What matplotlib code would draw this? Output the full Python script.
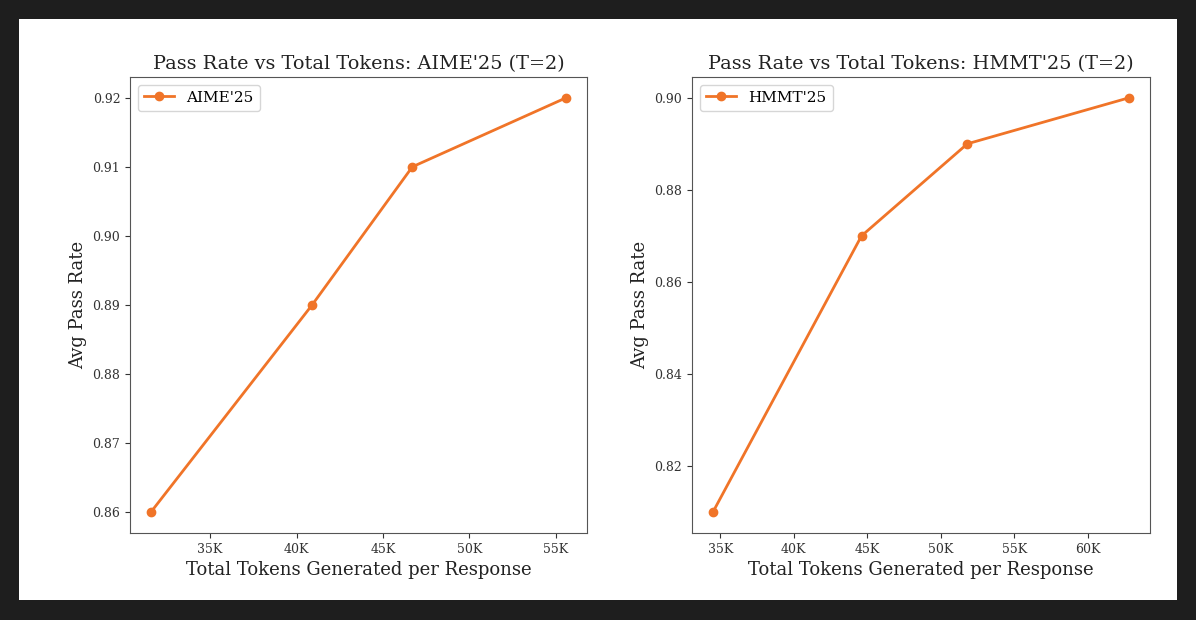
import matplotlib.pyplot as plt
from matplotlib.patches import Rectangle
from matplotlib.ticker import FuncFormatter

# AIME'25 data
aime_tokens = [31570, 40900, 46700, 55600]
aime_pass = [0.86, 0.89, 0.91, 0.92]

# HMMT'25 data
hmmt_tokens = [34490, 44600, 51800, 62800]
hmmt_pass = [0.81, 0.87, 0.89, 0.90]

color = '#f07428'
plt.rcParams['font.family'] = 'DejaVu Serif'

fig = plt.figure(figsize=(11.96, 6.2), dpi=100, facecolor='#1e1e1e')
fig.add_artist(Rectangle((19 / 1196, 20 / 620), 1158 / 1196, 581 / 620,
                         transform=fig.transFigure, facecolor='white',
                         edgecolor='none', zorder=-10))

W, H = 1196, 620
def make_ax(x0, x1, y0, y1):
    return fig.add_axes([x0 / W, 1 - y1 / H, (x1 - x0) / W, (y1 - y0) / H])

ax1 = make_ax(130, 587, 77, 533)
ax2 = make_ax(692, 1150, 77, 533)

kfmt = FuncFormatter(lambda v, p: f'{int(v / 1000)}K')

for ax, xs, ys, name in [(ax1, aime_tokens, aime_pass, "AIME'25"),
                         (ax2, hmmt_tokens, hmmt_pass, "HMMT'25")]:
    ax.plot(xs, ys, marker='o', color=color, linewidth=2, markersize=6, label=name)
    ax.set_title(f'Pass Rate vs Total Tokens: {name} (T=2)', fontsize=13.9, color='#222222')
    ax.set_xlabel('Total Tokens Generated per Response', fontsize=13, color='#222222')
    ax.set_ylabel('Avg Pass Rate', fontsize=13, color='#222222')
    ax.xaxis.set_major_formatter(kfmt)
    ax.tick_params(labelsize=9, colors='#333333')
    for s in ax.spines.values():
        s.set_color('#555555')
    ax.legend(loc='upper left', fontsize=11)

ax1.set_yticks([0.86, 0.87, 0.88, 0.89, 0.90, 0.91, 0.92])
ax1.yaxis.set_major_formatter(FuncFormatter(lambda v, p: f'{v:.2f}'))
ax2.set_yticks([0.82, 0.84, 0.86, 0.88, 0.90])
ax2.yaxis.set_major_formatter(FuncFormatter(lambda v, p: f'{v:.2f}'))

fig.savefig('out.png', dpi=100, facecolor=fig.get_facecolor())
